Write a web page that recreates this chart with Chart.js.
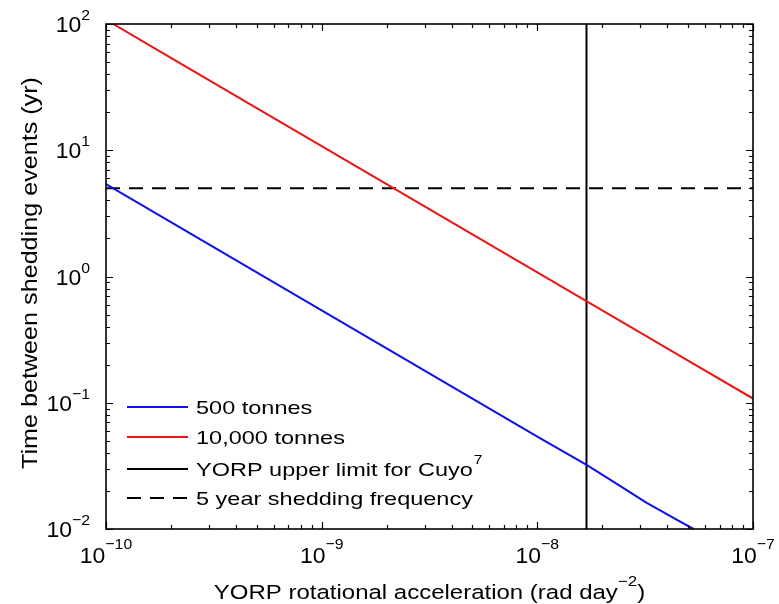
<!DOCTYPE html>
<html>
<head>
<meta charset="utf-8">
<script src="https://cdn.jsdelivr.net/npm/chart.js@4/dist/chart.umd.min.js"></script>
<style>
  body { margin: 0; background: #fff; }
  #wrap { width: 779px; height: 604px; }
</style>
</head>
<body>
<div id="wrap"><canvas id="chart" width="779" height="604"></canvas></div>
<script>
// values
const blueX = [1e-10, 2e-10, 5e-10, 1e-9, 2e-9, 5e-9, 1e-8, 1.7e-8, 2.5e-8, 3.2e-8, 3.8e-8, 4.4e-8, 5.3e-8];
const blueY = [5.4, 2.7, 1.08, 0.54, 0.27, 0.108, 0.054, 0.032, 0.0212, 0.0162, 0.0137, 0.0119, 0.0100];
const redX = [1.08e-10, 2e-10, 5e-10, 1e-9, 2e-9, 5e-9, 1e-8, 2e-8, 5e-8, 1e-7];
const redY = [100, 54, 21.6, 10.8, 5.4, 2.16, 1.08, 0.54, 0.216, 0.108];
const yorpLimit = 1.69e-8;
const sheddingYears = 5;

const xMajor = [1e-10, 1e-9, 1e-8, 1e-7];
const xExps = ['\u221210', '\u22129', '\u22128', '\u22127'];
const yMajor = [1e-2, 1e-1, 1e0, 1e1, 1e2];
const yExps = ['\u22122', '\u22121', '0', '1', '2'];

const labels = ['500 tonnes', '10,000 tonnes', 'YORP upper limit for Cuyo', '5 year shedding frequency'];

const FONT = '"Liberation Sans", Arial, Helvetica, sans-serif';

function pts(xs, ys) {
    return xs.map((x, i) => ({ x: x, y: ys[i] }));
}

// draw text with a horizontal stretch, returns drawn width
function sText(ctx, str, x, y, size, stretch) {
    ctx.save();
    ctx.font = size + 'px ' + FONT;
    ctx.translate(x, y);
    ctx.scale(stretch, 1);
    ctx.textAlign = 'left';
    ctx.fillText(str, 0, 0);
    const w = ctx.measureText(str).width * stretch;
    ctx.restore();
    return w;
}
function sWidth(ctx, str, size, stretch) {
    ctx.save();
    ctx.font = size + 'px ' + FONT;
    const w = ctx.measureText(str).width * stretch;
    ctx.restore();
    return w;
}

const axesPlugin = {
    id: 'matlabAxes',
    afterDraw(chart) {
        const ctx = chart.ctx;
        const a = chart.chartArea;
        const xs = chart.scales.x, ys = chart.scales.y;
        ctx.save();
        ctx.fillStyle = '#000';
        ctx.strokeStyle = '#000';

        // ticks (inward, all four sides)
        ctx.lineWidth = 1.2;
        ctx.beginPath();
        xMajor.forEach((v) => {
            for (let m = 1; m <= 9; m++) {
                const val = v * m;
                if (val > xMajor[xMajor.length - 1] * 1.0001) break;
                const px = Math.round(xs.getPixelForValue(val)) + 0.5;
                const len = m === 1 ? 7 : 4;
                ctx.moveTo(px, a.bottom); ctx.lineTo(px, a.bottom - len);
                ctx.moveTo(px, a.top); ctx.lineTo(px, a.top + len);
            }
        });
        yMajor.forEach((v) => {
            for (let m = 1; m <= 9; m++) {
                const val = v * m;
                if (val > yMajor[yMajor.length - 1] * 1.0001) break;
                const py = Math.round(ys.getPixelForValue(val)) + 0.5;
                const len = m === 1 ? 7 : 4;
                ctx.moveTo(a.left, py); ctx.lineTo(a.left + len, py);
                ctx.moveTo(a.right, py); ctx.lineTo(a.right - len, py);
            }
        });
        ctx.stroke();

        // box
        ctx.lineWidth = 1.6;
        ctx.strokeRect(a.left, a.top, a.right - a.left, a.bottom - a.top);

        // x tick labels
        xMajor.forEach((v, i) => {
            const px = xs.getPixelForValue(v);
            const w1 = sWidth(ctx, '10', 22.5, 1.02);
            const w2 = sWidth(ctx, xExps[i], 15.5, 1.02);
            const x0 = px - (w1 + w2) / 2;
            sText(ctx, '10', x0, a.bottom + 34, 22.5, 1.02);
            sText(ctx, xExps[i], x0 + w1, a.bottom + 20, 15.5, 1.02);
        });
        // y tick labels
        yMajor.forEach((v, i) => {
            const py = ys.getPixelForValue(v);
            const w1 = sWidth(ctx, '10', 22.5, 1.02);
            const w2 = sWidth(ctx, yExps[i], 15.5, 1.02);
            const x0 = 90 - (w1 + w2);
            sText(ctx, '10', x0, py + 8, 22.5, 1.02);
            sText(ctx, yExps[i], x0 + w1, py - 4, 15.5, 1.02);
        });

        // x title
        const t1 = 'YORP rotational acceleration (rad day', t2 = '\u22122', t3 = ')';
        const st = 1.17;
        const wa = sWidth(ctx, t1, 20.5, st), wb = sWidth(ctx, t2, 14.5, st), wc = sWidth(ctx, t3, 20.5, st);
        let tx = (a.left + a.right) / 2 - (wa + wb + wc) / 2;
        sText(ctx, t1, tx, 599, 20.5, st);
        sText(ctx, t2, tx + wa, 586, 14.5, st);
        sText(ctx, t3, tx + wa + wb, 599, 20.5, st);

        // y title
        const yt = 'Time between shedding events (yr)';
        ctx.save();
        ctx.translate(37, 273);
        ctx.rotate(-Math.PI / 2);
        const wy = sWidth(ctx, yt, 21.5, 1.17);
        sText(ctx, yt, -wy / 2, 0, 21.5, 1.17);
        ctx.restore();

        // legend
        const rows = [407, 437, 469, 498];
        chart.data.datasets.forEach((ds, i) => {
            const ly = rows[i];
            ctx.save();
            ctx.strokeStyle = ds.borderColor;
            ctx.lineWidth = 2;
            ctx.setLineDash(ds.borderDash || []);
            ctx.beginPath();
            ctx.moveTo(127, ly); ctx.lineTo(188, ly);
            ctx.stroke();
            ctx.restore();
            const w = sText(ctx, labels[i], 196, ly + 7, 18.5, 1.27);
            if (i === 2) sText(ctx, '7', 196 + w + 1, ly - 5, 13.5, 1.15);
        });
        ctx.restore();
    }
};

new Chart(document.getElementById('chart'), {
    type: 'line',
    data: {
        datasets: [
            { label: labels[0], data: pts(blueX, blueY), borderColor: 'rgb(15,15,235)', borderWidth: 2 },
            { label: labels[1], data: pts(redX, redY), borderColor: 'rgb(235,20,20)', borderWidth: 2 },
            { label: labels[2], data: [{ x: yorpLimit, y: 1e-2 }, { x: yorpLimit, y: 1e2 }], borderColor: '#000', borderWidth: 2 },
            { label: labels[3], data: [{ x: 1e-10, y: sheddingYears }, { x: 1e-7, y: sheddingYears }], borderColor: '#000', borderWidth: 2, borderDash: [14, 9] }
        ]
    },
    options: {
        responsive: false,
        animation: false,
        layout: { padding: { left: 106, right: 26, top: 24, bottom: 75 } },
        elements: { point: { radius: 0 }, line: { tension: 0 } },
        plugins: { legend: { display: false }, tooltip: { enabled: false } },
        scales: {
            x: { type: 'logarithmic', min: 1e-10, max: 1e-7, display: false },
            y: { type: 'logarithmic', min: 1e-2, max: 1e2, display: false }
        }
    },
    plugins: [axesPlugin]
});
</script>
</body>
</html>
